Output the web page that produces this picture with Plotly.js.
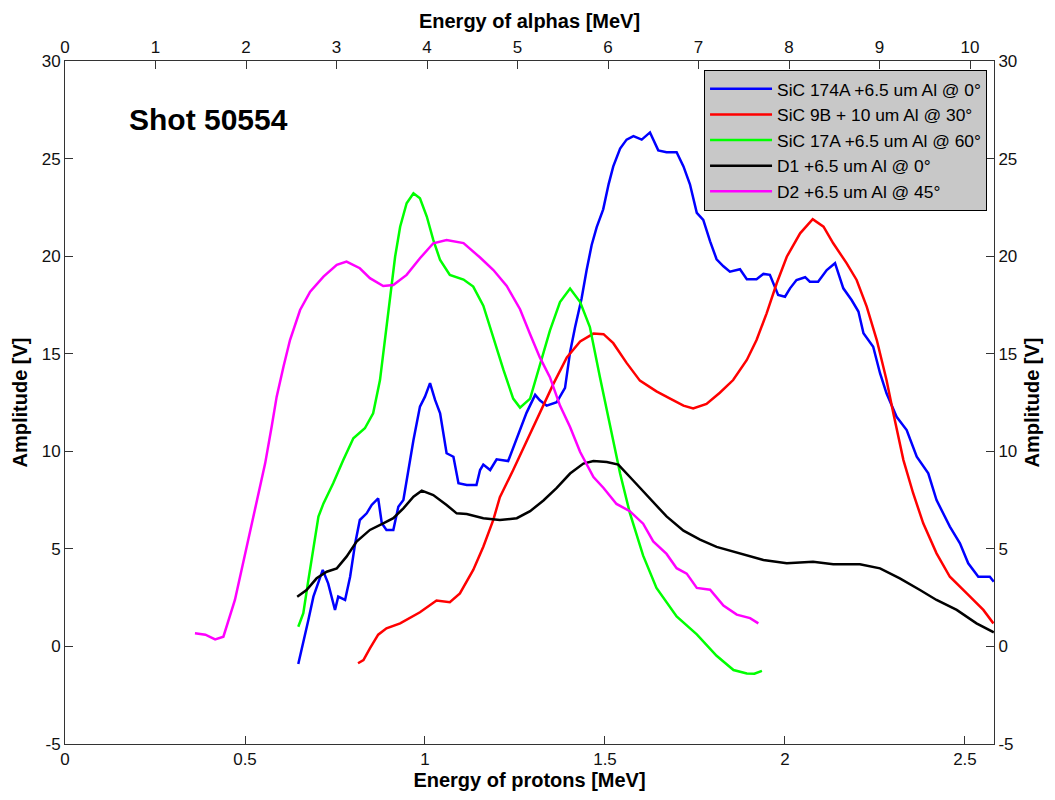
<!DOCTYPE html>
<html>
<head>
<meta charset="utf-8">
<script src="https://cdn.plot.ly/plotly-3.0.1.min.js"></script>
<style>
html,body{margin:0;padding:0;background:#fff;}
#chart{width:1055px;height:800px;}
</style>
</head>
<body>
<div id="chart"></div>
<script>
// ---- data ----
const seriesNames = [
  "SiC 174A +6.5 um Al @ 0°",
  "SiC 9B + 10 um Al @ 30°",
  "SiC 17A +6.5 um Al @ 60°",
  "D1 +6.5 um Al @ 0°",
  "D2 +6.5 um Al @ 45°"
];

const sic174aX = [0.648,0.662,0.676,0.690,0.704,0.716,0.731,0.750,0.759,0.778,0.792,0.806,0.819,0.838,0.852,0.870,0.880,0.893,0.912,0.926,0.940,0.954,0.968,0.986,1.000,1.014,1.028,1.042,1.060,1.079,1.093,1.116,1.143,1.153,1.162,1.181,1.199,1.231,1.255,1.282,1.306,1.319,1.338,1.366,1.389,1.403,1.417,1.435,1.449,1.463,1.477,1.495,1.510,1.523,1.542,1.560,1.579,1.602,1.625,1.648,1.671,1.699,1.718,1.736,1.755,1.773,1.792,1.810,1.829,1.847,1.875,1.894,1.921,1.940,1.958,1.981,2.000,2.014,2.032,2.056,2.069,2.092,2.116,2.139,2.162,2.185,2.204,2.218,2.245,2.264,2.282,2.310,2.338,2.366,2.398,2.421,2.458,2.486,2.509,2.537,2.569,2.580];
const sic174aY = [-0.9,0.16,1.35,2.55,3.23,3.92,3.23,1.87,2.55,2.38,3.57,5.28,6.48,6.82,7.25,7.59,6.31,5.97,5.97,7.16,7.5,9.04,10.58,12.29,12.8,13.49,12.63,11.95,9.9,9.72,8.36,8.27,8.27,9.04,9.32,9.04,9.59,9.5,10.69,11.97,12.89,12.61,12.34,12.52,13.25,15.08,16.37,17.83,19.29,20.57,21.49,22.4,23.68,24.6,25.51,25.97,26.15,25.97,26.34,25.42,25.33,25.33,24.6,23.68,22.22,21.86,20.76,19.84,19.48,19.2,19.33,18.82,18.82,19.09,19.04,18.01,17.92,18.35,18.78,18.92,18.69,18.69,19.29,19.64,18.35,17.75,17.16,16.05,15.36,14.0,12.97,11.77,11.09,9.72,8.87,7.5,6.14,5.28,4.26,3.57,3.57,3.32];

const sic9bX = [0.814,0.829,0.847,0.870,0.893,0.931,0.986,1.032,1.069,1.097,1.134,1.162,1.190,1.208,1.245,1.282,1.319,1.356,1.394,1.431,1.468,1.496,1.523,1.560,1.597,1.643,1.681,1.718,1.745,1.782,1.819,1.856,1.894,1.921,1.949,1.977,2.005,2.042,2.077,2.107,2.134,2.171,2.199,2.227,2.255,2.282,2.301,2.329,2.356,2.384,2.421,2.458,2.505,2.551,2.579];
const sic9bY = [-0.86,-0.7,-0.1,0.6,0.93,1.18,1.75,2.35,2.27,2.72,3.92,5.11,6.5,7.65,9.04,10.5,11.97,13.43,14.81,15.63,16.03,16.0,15.54,14.53,13.62,13.07,12.7,12.34,12.19,12.43,13.0,13.65,14.68,15.7,17.07,18.61,19.97,21.17,21.89,21.51,20.66,19.64,18.78,17.41,15.7,13.65,11.95,9.55,7.85,6.31,4.77,3.57,2.72,1.87,1.18];

const sic17aX = [0.648,0.662,0.676,0.690,0.704,0.718,0.745,0.773,0.801,0.833,0.856,0.875,0.889,0.903,0.917,0.931,0.949,0.968,0.986,1.005,1.023,1.042,1.069,1.107,1.134,1.162,1.190,1.218,1.245,1.264,1.292,1.319,1.347,1.375,1.403,1.431,1.458,1.486,1.514,1.542,1.569,1.606,1.643,1.699,1.755,1.810,1.857,1.894,1.915,1.936];
const sic17aY = [1.01,1.7,3.4,5.11,6.65,7.33,8.36,9.55,10.67,11.18,11.95,13.65,15.7,17.92,19.97,21.51,22.71,23.22,22.97,22.03,20.83,19.8,19.04,18.8,18.44,17.46,15.81,14.17,12.7,12.24,12.7,14.35,16.18,17.65,18.34,17.65,16.37,13.8,11.24,8.86,6.84,4.65,3.0,1.54,0.62,-0.48,-1.21,-1.39,-1.4,-1.25];

const d1X = [0.645,0.671,0.699,0.727,0.755,0.782,0.810,0.847,0.884,0.912,0.940,0.968,0.991,1.023,1.060,1.088,1.116,1.162,1.208,1.255,1.292,1.329,1.366,1.403,1.440,1.468,1.505,1.537,1.579,1.625,1.671,1.718,1.764,1.810,1.875,1.940,2.005,2.078,2.134,2.208,2.264,2.319,2.375,2.421,2.477,2.532,2.580];
const d1Y = [2.55,2.89,3.49,3.83,4.0,4.6,5.37,5.97,6.31,6.57,7.08,7.67,7.98,7.76,7.25,6.82,6.79,6.57,6.48,6.57,6.93,7.48,8.12,8.86,9.37,9.5,9.45,9.32,8.49,7.58,6.66,5.93,5.47,5.1,4.77,4.43,4.26,4.34,4.21,4.21,4.0,3.49,2.89,2.38,1.87,1.18,0.72];

const d2X = [0.361,0.390,0.417,0.440,0.472,0.505,0.532,0.556,0.574,0.588,0.607,0.625,0.653,0.681,0.718,0.755,0.782,0.819,0.847,0.884,0.912,0.949,0.986,1.023,1.060,1.107,1.153,1.190,1.227,1.264,1.292,1.319,1.347,1.375,1.403,1.431,1.468,1.496,1.532,1.569,1.606,1.634,1.671,1.699,1.727,1.755,1.792,1.829,1.866,1.903,1.926];
const d2Y = [0.67,0.6,0.36,0.5,2.38,5.11,7.5,9.38,11.26,12.8,14.34,15.7,17.24,18.18,18.95,19.55,19.72,19.38,18.87,18.47,18.52,19.04,19.89,20.66,20.83,20.67,19.93,19.29,18.47,17.28,16.0,14.81,13.8,12.34,11.24,9.96,8.68,8.12,7.3,6.93,6.29,5.38,4.74,4.01,3.73,3.0,2.91,2.09,1.63,1.45,1.18];

const protonTicks = [0, 0.5, 1, 1.5, 2, 2.5];
const protonTickText = ["0", "0.5", "1", "1.5", "2", "2.5"];
const alphaTicks = [0,1,2,3,4,5,6,7,8,9,10];
const alphaTickText = ["0","1","2","3","4","5","6","7","8","9","10"];
const ampTicks = [-5,0,5,10,15,20,25,30];
const ampTickText = ["-5","0","5","10","15","20","25","30"];

// ---- styling ----
const colors = ["#0000ff","#ff0000","#00ff00","#000000","#ff00ff"];
const xs = [sic174aX, sic9bX, sic17aX, d1X, d2X];
const ys = [sic174aY, sic9bY, sic17aY, d1Y, d2Y];

const traces = xs.map((x, i) => ({
  type: "scatter", mode: "lines", x: x, y: ys[i],
  name: seriesNames[i],
  line: {color: colors[i], width: 2.5},
  xaxis: "x", yaxis: "y"
}));
// empty trace so the secondary (top/right) axes are drawn
traces.push({type:"scatter", mode:"lines", x:[], y:[], xaxis:"x2", yaxis:"y2", showlegend:false, hoverinfo:"skip"});

const tickFont = {family: "Liberation Sans, Arial, sans-serif", size: 17, color: "#111"};
const titleFont = {family: "Liberation Sans, Arial, sans-serif", size: 20, color: "#000"};
const axisCommon = {
  showgrid: false, zeroline: false, showline: true, linecolor: "#333", linewidth: 1,
  ticks: "inside", ticklen: 8, tickcolor: "#333", tickfont: tickFont
};

const layout = {
  width: 1055, height: 800,
  margin: {l: 65, r: 61, t: 61, b: 56, pad: 0},
  paper_bgcolor: "#fff", plot_bgcolor: "#fff",
  showlegend: true,
  xaxis: Object.assign({}, axisCommon, {
    range: [0, 2.5806], tickmode: "array", tickvals: protonTicks, ticktext: protonTickText,
    title: {text: "<b>Energy of protons [MeV]</b>", font: titleFont, standoff: 4},
    anchor: "y", side: "bottom"
  }),
  xaxis2: Object.assign({}, axisCommon, {
    range: [0, 10.265], tickmode: "array", tickvals: alphaTicks, ticktext: alphaTickText,
    overlaying: "x", side: "top", anchor: "y",
    title: {text: "<b>Energy of alphas [MeV]</b>", font: titleFont, standoff: 4}
  }),
  yaxis: Object.assign({}, axisCommon, {
    range: [-5, 30], tickmode: "array", tickvals: ampTicks, ticktext: ampTickText,
    title: {text: "<b>Amplitude [V]</b>", font: titleFont, standoff: 8},
    anchor: "x", side: "left"
  }),
  yaxis2: Object.assign({}, axisCommon, {
    range: [-5, 30], tickmode: "array", tickvals: ampTicks, ticktext: ampTickText,
    overlaying: "y", side: "right", anchor: "x",
    title: {text: "<b>Amplitude [V]</b>", font: titleFont, standoff: 8}
  }),
  legend: {
    x: 0.9925, xanchor: "right", y: 0.9868, yanchor: "top",
    bgcolor: "#c8c8c8", bordercolor: "#000", borderwidth: 1,
    font: {family: "Liberation Sans, Arial, sans-serif", size: 17.4, color: "#000"},
    itemwidth: 62, tracegroupgap: 0
  },
  annotations: [{
    text: "<b>Shot 50554</b>", xref: "paper", yref: "paper",
    x: 0.0667, y: 0.915, xanchor: "left", yanchor: "middle", showarrow: false,
    font: {family: "Liberation Sans, Arial, sans-serif", size: 30, color: "#000"}
  }]
};

Plotly.newPlot("chart", traces, layout, {displayModeBar: false, staticPlot: true});
</script>
</body>
</html>
